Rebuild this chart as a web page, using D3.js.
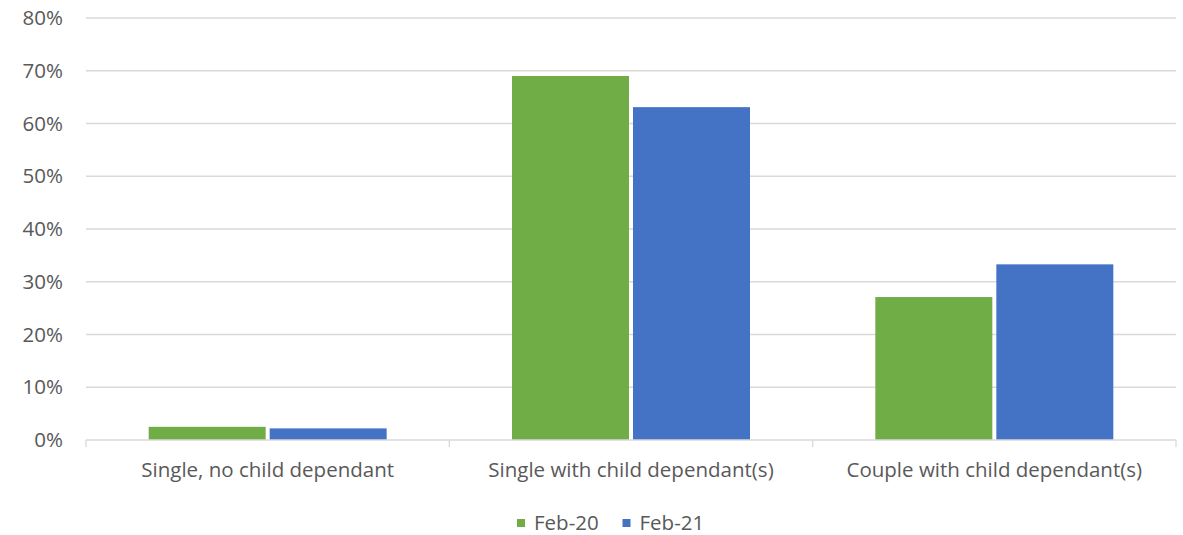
<!DOCTYPE html>
<html><head><meta charset="utf-8">
<script src="https://cdn.jsdelivr.net/npm/d3@7"></script>
<style>body{margin:0;background:#fff;} text{font-family:"Open Sans","Noto Sans",sans-serif;fill:#595959;}</style>
</head><body>
<svg id="c" width="1183" height="535"></svg>
<script>
const categories = ["Single, no child dependant", "Single with child dependant(s)", "Couple with child dependant(s)"];
const seriesNames = ["Feb-20", "Feb-21"];
const feb20 = [2.5, 69.0, 27.1];
const feb21 = [2.2, 63.1, 33.3];
const yTicks = [0, 10, 20, 30, 40, 50, 60, 70, 80];
const colors = ["#70AD47", "#4472C4"];

(function () {
const svg = d3.select("#c");
const pl = 86, pr = 1176, pt = 18, pb = 440;
const fs = 20.5;
const x0 = d3.scaleBand().domain(categories).range([pl, pr]).paddingInner(0).paddingOuter(0);
const y = d3.scaleLinear().domain([0, 80]).range([pb, pt]);

svg.append("g").selectAll("line").data(yTicks.slice(1)).join("line")
  .attr("x1", pl).attr("x2", pr).attr("y1", d => y(d)).attr("y2", d => y(d))
  .attr("stroke", "#d9d9d9").attr("stroke-width", 1.3);

svg.append("g").selectAll("text").data(yTicks).join("text")
  .attr("x", 63).attr("y", d => y(d)).attr("dy", "0.35em").attr("text-anchor", "end")
  .attr("font-size", fs).text(d => d + "%");

const step = x0.bandwidth();
const barW = step * 0.322;
const gap = 4;
const groupW = barW * 2 + gap;
const series = [feb20, feb21];
series.forEach((vals, si) => {
  svg.append("g").selectAll("rect").data(vals).join("rect")
    .attr("x", (d, i) => x0(categories[i]) + (step - groupW) / 2 + si * (barW + gap))
    .attr("width", barW)
    .attr("y", d => y(d)).attr("height", d => y(0) - y(d))
    .attr("fill", colors[si]);
});

const ax = svg.append("g").attr("transform", `translate(0,${pb})`);
ax.append("line").attr("x1", pl).attr("x2", pr).attr("stroke", "#d9d9d9").attr("stroke-width", 1.3);
ax.selectAll("line.tick").data(d3.range(categories.length + 1)).join("line").attr("class", "tick")
  .attr("x1", i => pl + i * step).attr("x2", i => pl + i * step).attr("y1", 0).attr("y2", 7)
  .attr("stroke", "#d9d9d9").attr("stroke-width", 1.3);
ax.selectAll("text").data(categories).join("text")
  .attr("x", d => x0(d) + step / 2).attr("y", 37).attr("text-anchor", "middle")
  .attr("font-size", fs).text(d => d);

const lg = svg.append("g");
const legX = [517, 622.5];
seriesNames.forEach((s, i) => {
  lg.append("rect").attr("x", legX[i]).attr("y", 519).attr("width", 8).attr("height", 8).attr("fill", colors[i]);
  lg.append("text").attr("x", legX[i] + 17).attr("y", 523).attr("dy", "0.35em").attr("font-size", fs).text(s);
});
})();
</script>
</body></html>
